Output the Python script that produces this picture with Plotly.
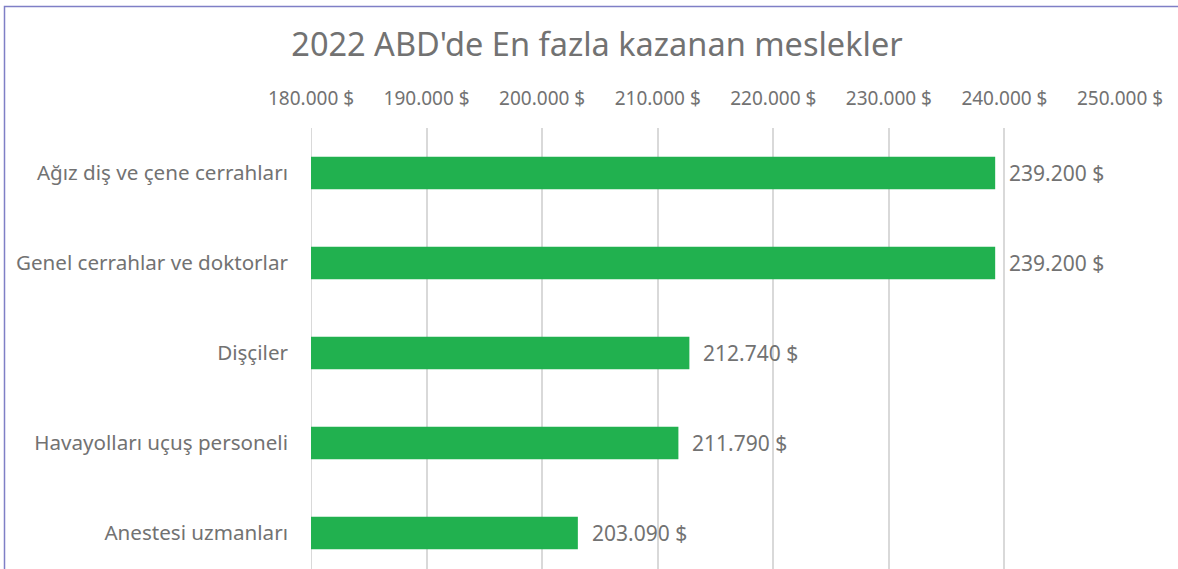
import plotly.graph_objects as go

title = "2022 ABD'de En fazla kazanan meslekler"
categories = ["Ağız diş ve çene cerrahları", "Genel cerrahlar ve doktorlar", "Dişçiler",
              "Havayolları uçuş personeli", "Anestesi uzmanları"]
values = [239200, 239200, 212740, 211790, 203090]
tick_values = [180000, 190000, 200000, 210000, 220000, 230000, 240000, 250000]
tick_labels = ["180.000 $", "190.000 $", "200.000 $", "210.000 $", "220.000 $",
               "230.000 $", "240.000 $", "250.000 $"]
value_labels = ["239.200 $", "239.200 $", "212.740 $", "211.790 $", "203.090 $"]

W, H = 1178, 569
L, R, T, B = 311, 58, 128, 0
FONT = "Noto Sans"
GRAY = "#727272"
GRID = "#D9D9D9"

# bottom-to-top order for plotting
cats_bt = categories[::-1]
vals_bt = values[::-1]
labs_bt = value_labels[::-1]

fig = go.Figure(go.Bar(
    y=cats_bt, x=vals_bt, orientation="h",
    marker=dict(color="#21B14F", line=dict(width=0)),
    width=0.36,
    hoverinfo="skip",
))

for c, v, t in zip(cats_bt, vals_bt, labs_bt):
    fig.add_annotation(x=v, y=c, xref="x", yref="y", text=t, showarrow=False,
                       xanchor="left", yanchor="middle", xshift=12,
                       font=dict(family=FONT, size=21, color=GRAY))

pw = W - L - R
ph = H - T - B

def px_to_paper_x(px):
    return (px - L) / pw

def px_to_paper_y(py):
    return (H - B - py) / ph

# gridline at the axis minimum (plotly drops gridlines on the plot edge)
fig.add_shape(type="line", xref="x", yref="paper",
              x0=tick_values[0], x1=tick_values[0], y0=0, y1=1,
              line=dict(color=GRID, width=2), layer="below")

# chart-area border (top and left visible in the crop)
fig.add_shape(type="rect", xref="paper", yref="paper",
              x0=px_to_paper_x(4.5), x1=px_to_paper_x(W + 20),
              y0=px_to_paper_y(H + 20), y1=px_to_paper_y(6.5),
              line=dict(color="#7F7FC6", width=1.5), fillcolor="rgba(0,0,0,0)", layer="above")

fig.update_layout(
    width=W, height=H,
    margin=dict(l=L, r=R, t=T, b=B, pad=0),
    paper_bgcolor="white", plot_bgcolor="white",
    showlegend=False,
    title=dict(text=title, x=597 / W, xanchor="center", xref="container",
               y=1 - 45 / H, yanchor="middle", yref="container",
               font=dict(family=FONT, size=32.5, color=GRAY)),
    xaxis=dict(range=[180000, 250000], side="top", tickmode="array",
               tickvals=tick_values, ticktext=tick_labels,
               showgrid=True, gridcolor=GRID, gridwidth=2,
               zeroline=False, showline=False, ticks="", ticklabelstandoff=18,
               tickfont=dict(family=FONT, size=19, color=GRAY), fixedrange=True),
    yaxis=dict(type="category", categoryorder="array", categoryarray=cats_bt,
               range=[-0.4, 4.5], showgrid=False, zeroline=False, showline=False,
               ticks="", ticklabelstandoff=22,
               tickfont=dict(family=FONT, size=20.6, color=GRAY), fixedrange=True),
)

fig.write_html("out.html", config={"displayModeBar": False},
               post_script="document.body.style.margin='0';")
